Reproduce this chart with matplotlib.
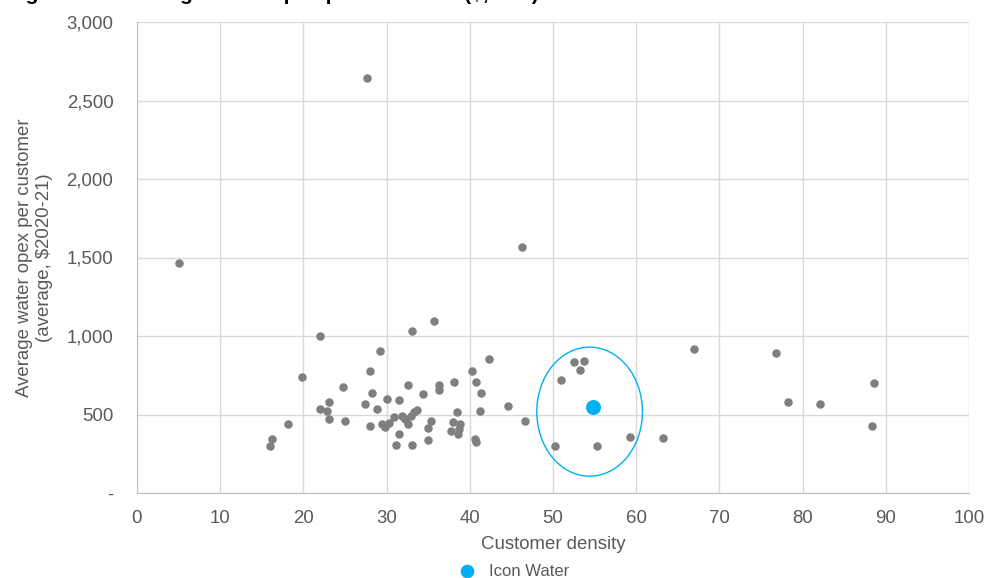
import matplotlib.pyplot as plt
from matplotlib.patches import Ellipse
from matplotlib.ticker import FuncFormatter

plt.rcParams['font.family'] = ['Liberation Sans', 'DejaVu Sans']

# customer density vs average water opex per customer
density = [5.1, 27.6, 46.3, 22.0, 35.7, 33.1, 29.2, 19.8, 28.0, 42.3,
           24.7, 28.2, 32.6, 36.3, 36.3, 38.1, 40.3, 40.8, 41.4, 34.4,
           23.1, 22.0, 22.8, 23.1, 25.0, 18.2, 16.2, 16.0, 27.4, 30.1,
           31.5, 28.9, 30.9, 31.9, 32.2, 32.9, 33.3, 33.7, 32.6, 28.0,
           29.5, 29.8, 30.3, 35.3, 35.0, 31.5, 31.1, 33.1, 35.0, 38.5,
           38.0, 38.8, 38.7, 37.7, 38.6, 41.2, 40.6, 40.8, 44.6, 46.6,
           51.0, 52.5, 53.7, 53.3, 50.2, 55.3, 59.3, 63.2, 67.0, 76.8,
           88.6, 78.2, 82.1, 88.3]
opex = [1465, 2643, 1565, 1002, 1094, 1030, 904, 739, 777, 855,
        677, 635, 688, 690, 656, 709, 777, 709, 639, 631,
        578, 535, 520, 471, 457, 439, 344, 299, 569, 599,
        592, 535, 482, 490, 473, 490, 516, 527, 439, 429,
        439, 420, 444, 457, 412, 376, 304, 304, 336, 514,
        452, 441, 408, 395, 376, 520, 344, 325, 556, 460,
        718, 834, 843, 781, 299, 299, 357, 352, 919, 892,
        702, 578, 567, 425]

icon_density = 54.8
icon_opex = 550

# highlight ring around the peer group
ring_centre = (54.4, 518)
ring_w = 12.7
ring_h = 822

grey = '#595959'

fig = plt.figure(figsize=(9.86, 5.78), dpi=100)
ax = fig.add_axes([137/986, 1 - 493/578, (969 - 137)/986, (493 - 22)/578])

ax.scatter(density, opex, s=26, color='#7f7f7f', zorder=3)
ax.scatter([icon_density], [icon_opex], s=95, color='#00b0f0', zorder=4,
           label='Icon Water')
ax.add_patch(Ellipse(ring_centre, ring_w, ring_h, fill=False,
                     edgecolor='#00b0f0', lw=1.0, zorder=2))

ax.set_xlim(0, 100)
ax.set_ylim(0, 3000)
ax.set_xticks(range(0, 101, 10))
ax.set_yticks(range(0, 3001, 500))
ax.yaxis.set_major_formatter(FuncFormatter(lambda v, p: '-' if v == 0 else f'{v:,.0f}'))
ax.tick_params(length=0, labelsize=13.4, colors=grey)
ax.tick_params(axis='x', pad=12.5)
ax.tick_params(axis='y', pad=17)
ax.grid(True, color='#d9d9d9', lw=1)
ax.set_axisbelow(True)
for s in ['top', 'right']:
    ax.spines[s].set_visible(False)
for s in ['left', 'bottom']:
    ax.spines[s].set_color('#bfbfbf')

ax.set_xlabel('Customer density', fontsize=13.4, color=grey, labelpad=6)
ax.set_ylabel('Average water opex per customer\n(average, \\$2020-21)',
              fontsize=13.4, color=grey)
ax.yaxis.set_label_coords(-0.101, 0.5)

fig.legend(loc='center', bbox_to_anchor=(510/986, 1 - 571/578), frameon=False,
           fontsize=12, labelcolor=grey, handletextpad=0.3, markerscale=0.9)

# title sits mostly above the top edge, as in the source crop
fig.text(0.007, 1 + 0.5/578, 'Figure 3.12 Average water opex per customer ($, real)',
         fontsize=15, fontweight='bold', va='baseline', ha='left')

fig.savefig('out.png', dpi=100)
